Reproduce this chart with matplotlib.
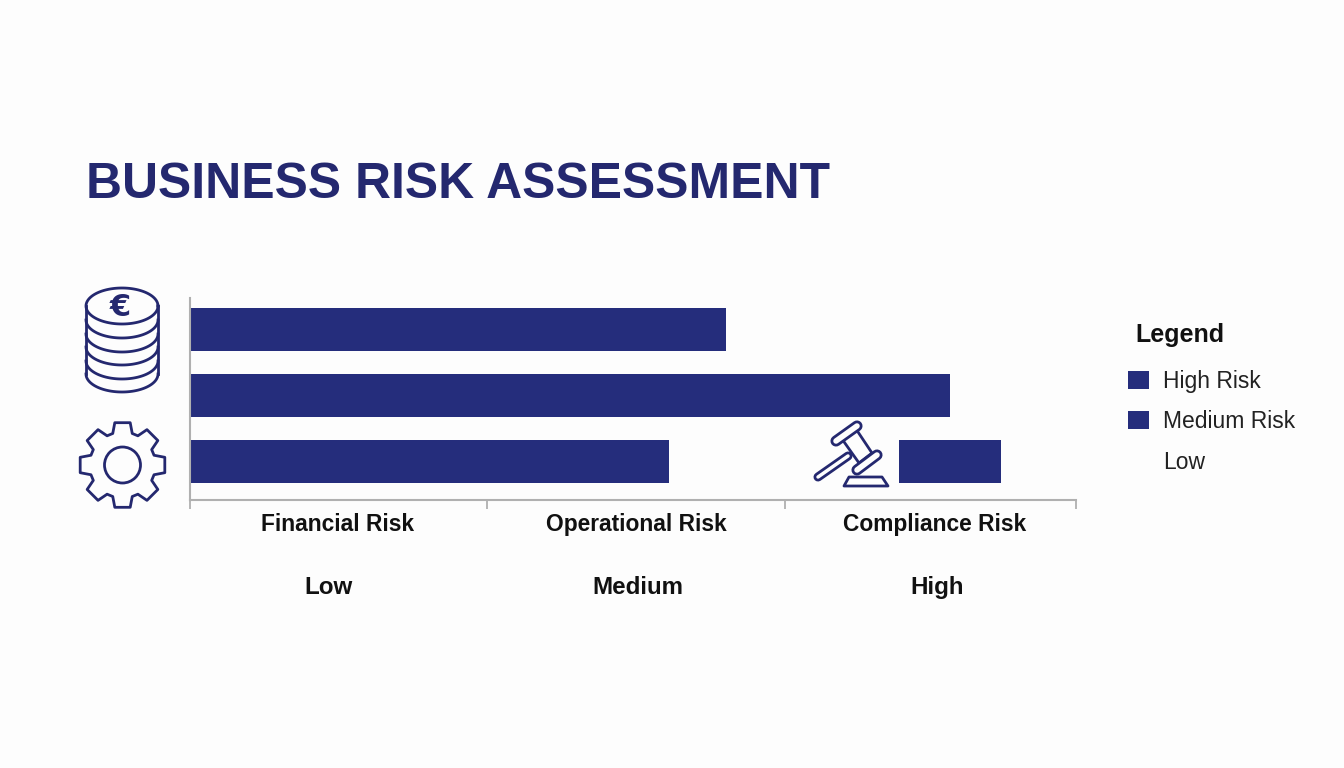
import numpy as np
import matplotlib
matplotlib.use('Agg')
import matplotlib.pyplot as plt
from matplotlib.patches import Patch, Circle, Polygon

plt.rcParams['font.family'] = ['Liberation Sans', 'DejaVu Sans']

# Datos de las barras
bar_rows = [0, 1, 2, 2]
bar_starts = [0, 0, 0, 2.40]
bar_values = [1.815, 2.574, 1.622, 0.345]

tick_pos = [0, 1.006, 2.014, 3]
risk_pos = [0.50, 1.51, 2.52]
risk_labels = ['Financial Risk', 'Operational Risk', 'Compliance Risk']
level_pos = [0.47, 1.516, 2.53]
level_labels = ['Low', 'Medium', 'High']
legend_labels = ['High Risk', 'Medium Risk', 'Low']

navy = '#252d7c'
dark = '#24286f'
bg = '#fdfdfd'
W, H = 1344, 768

fig = plt.figure(figsize=(W / 100, H / 100), dpi=100, facecolor=bg)
ax = fig.add_axes([190 / W, 1 - 500 / H, 886 / W, 202 / H], facecolor='none')

ax.barh(bar_rows, bar_values, left=bar_starts, height=0.65, color=navy)
ax.set_xlim(0, 3)
ax.set_ylim(2.583, -0.477)
ax.set_yticks([])

for s in ['top', 'right']:
    ax.spines[s].set_visible(False)
for s in ['left', 'bottom']:
    ax.spines[s].set_color('#b0b0b0')
    ax.spines[s].set_linewidth(1.5)

ax.set_xticks(tick_pos)
ax.set_xticklabels([])
ax.tick_params(axis='x', which='major', length=6.5, width=1.3, color='#b0b0b0')
ax.set_xticks(risk_pos, minor=True)
ax.set_xticklabels(risk_labels, minor=True, fontsize=16.4, fontweight='bold', color='#111111')
ax.tick_params(axis='x', which='minor', length=0, pad=9.3)

# Segunda fila de etiquetas
for x, lab in zip(level_pos, level_labels):
    ax.annotate(lab, xy=(x, 0), xycoords=('data', 'axes fraction'), xytext=(0, -94 * 0.72),
                textcoords='offset points', ha='center', va='baseline',
                fontsize=17.4, fontweight='bold', color='#111111')

# Capa en pixeles para titulo e iconos
ov = fig.add_axes([0, 0, 1, 1], facecolor='none')
ov.set_xlim(0, W)
ov.set_ylim(H, 0)
ov.axis('off')

ov.text(86, 198, 'BUSINESS RISK ASSESSMENT', fontsize=35.9, fontweight='bold',
        color=dark, ha='left', va='baseline')

# Monedas
lw = 2.0
cx = 122
t = np.linspace(0, 2 * np.pi, 120)
ov.plot(cx + 36 * np.cos(t), 306 + 18 * np.sin(t), color=dark, lw=lw)
ov.plot([cx - 36, cx - 36], [306, 374], color=dark, lw=lw)
ov.plot([cx + 36, cx + 36], [306, 374], color=dark, lw=lw)
t = np.linspace(0, np.pi, 60)
for yb in [374, 361, 347, 334, 320]:
    ov.plot(cx + 36 * np.cos(t), yb + 18 * np.sin(t), color=dark, lw=lw)
ov.text(120, 308, '€', fontsize=22, fontweight='bold', family='DejaVu Sans', color=dark,
        ha='center', va='center')

# Engranaje
gx, gy = 122.5, 465
angs, rads = [], []
for k in range(8):
    a = k * np.pi / 4 - np.pi / 2
    angs += [a - 0.30, a - 0.18, a + 0.18, a + 0.30]
    rads += [33, 43, 43, 33]
gear = np.c_[gx + np.array(rads) * np.cos(angs), gy + np.array(rads) * np.sin(angs)]
ov.add_patch(Polygon(gear, closed=True, fc='none', ec=dark, lw=lw, joinstyle='round'))
ov.add_patch(Circle((gx, gy), 18, fc='none', ec=dark, lw=lw))

# Mazo
def stroke(xs, ys, wide, z):
    ov.plot(xs, ys, color=dark, lw=wide, solid_capstyle='round', zorder=z)
    ov.plot(xs, ys, color=bg, lw=wide - 2 * lw, solid_capstyle='round', zorder=z + 0.1)

stroke([848, 818], [456, 477], 6.5, 5)
ov.add_patch(Polygon([(842, 439), (856, 429), (872, 453), (859, 463)], closed=True,
                     fc=bg, ec=dark, lw=lw, zorder=5.2))
stroke([836, 857], [441, 426], 8, 5.3)
stroke([857, 877], [470, 455], 8, 5.3)
ov.add_patch(Polygon([(844, 486), (849, 477), (882, 477), (888, 486)], closed=True,
                     fc='none', ec=dark, lw=lw, joinstyle='round'))

# Leyenda
handles = [Patch(facecolor=navy, edgecolor='none'), Patch(facecolor=navy, edgecolor='none'),
           Patch(facecolor='none', edgecolor='none')]
leg = fig.legend(handles, legend_labels, loc='upper left', bbox_to_anchor=(1107 / W, 1 - 349 / H),
                 frameon=False, fontsize=16.5,
                 handlelength=0.92, handleheight=0.85, handletextpad=0.63, labelspacing=0.77,
                 labelcolor='#222222')
ov.text(1135, 342, 'Legend', fontsize=18, fontweight='bold', color='#111111', ha='left', va='baseline')

fig.savefig('out.png', dpi=100, facecolor=bg)
